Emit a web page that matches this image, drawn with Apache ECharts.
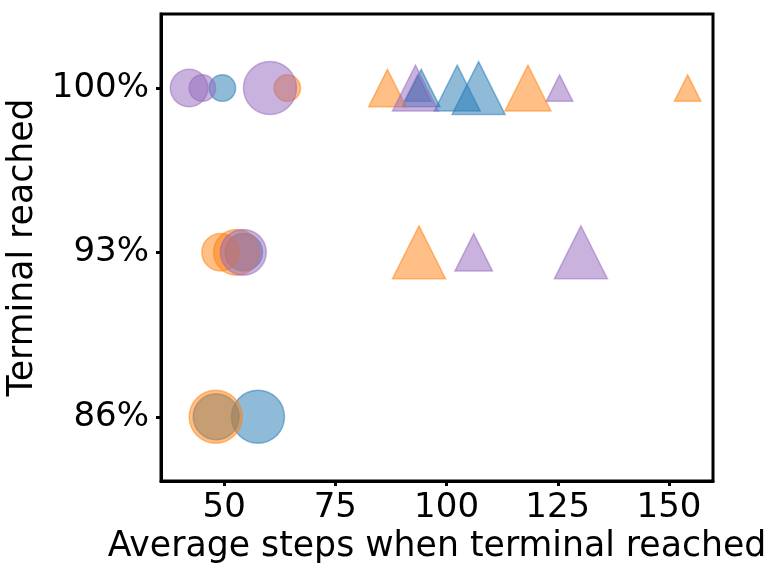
<!DOCTYPE html>
<html>
<head>
<meta charset="utf-8">
<script src="https://cdn.jsdelivr.net/npm/echarts@6/dist/echarts.min.js"></script>
<style>
  html, body { margin: 0; padding: 0; background: #fff; }
  #chart { width: 768px; height: 576px; }
</style>
</head>
<body>
<div id="chart"></div>
<script>
// each point: [average steps, % terminal reached, size level]
const blueCircles = [[49.6, 100, 1], [54.4, 92.86, 2], [48.2, 85.71, 3], [57.6, 85.71, 4]];
const orangeCircles = [[64.2, 100, 1], [49.2, 92.86, 2], [52.8, 92.86, 3], [48.1, 85.71, 4]];
const purpleCircles = [[42.1, 100, 2], [45.1, 100, 1], [60.3, 100, 4], [54.3, 92.86, 3]];
const blueTriangles = [[93.5, 100, 1], [94.3, 100, 2], [102.4, 100, 3], [107.2, 100, 4]];
const orangeTriangles = [[86.7, 100, 2], [118.3, 100, 3], [154.2, 100, 1], [93.8, 92.86, 4]];
const purpleTriangles = [[93.0, 100, 3], [125.4, 100, 1], [106.1, 92.86, 2], [130.2, 92.86, 4]];

const xTicks = [50, 75, 100, 125, 150];
const yTicks = [85.71, 92.86, 100];
const yTickLabels = ['86%', '93%', '100%'];

const FONT = 'DejaVu Sans';

function scatter(data, color, symbol) {
    return {
        type: 'scatter',
        data: data,
        symbol: symbol,
        symbolSize: d => 26.5 * Math.sqrt(d[2]),
        itemStyle: {
            color: color,
            opacity: 0.5,
            borderColor: color,
            borderWidth: 1.5
        },
        emphasis: { disabled: true }
    };
}

const chart = echarts.init(document.getElementById('chart'));

chart.setOption({
    animation: false,
    grid: {
        left: 161, right: 55, top: 14, bottom: 95,
        containLabel: false,
        outerBoundsMode: 'none',
        show: true, borderColor: '#000', borderWidth: 3
    },
    xAxis: {
        type: 'value',
        min: 35.8,
        max: 159.9,
        name: 'Average steps when terminal reached',
        nameLocation: 'middle',
        nameGap: 48,
        nameTextStyle: { fontFamily: FONT, fontSize: 34.7, color: '#000' },
        axisLine: { lineStyle: { color: '#000', width: 3 } },
        axisTick: { customValues: xTicks, length: 5, lineStyle: { color: '#000', width: 3 } },
        axisLabel: {
            customValues: xTicks,
            margin: 10,
            fontFamily: FONT, fontSize: 34, color: '#000'
        },
        splitLine: { show: false }
    },
    yAxis: {
        type: 'value',
        min: 82.92,
        max: 103.22,
        name: 'Terminal reached',
        nameLocation: 'middle',
        nameRotate: 90,
        nameGap: 115,
        nameTextStyle: { fontFamily: FONT, fontSize: 34.7, color: '#000' },
        axisLine: { show: true, lineStyle: { color: '#000', width: 3 } },
        axisTick: { show: true, customValues: yTicks, length: 5, lineStyle: { color: '#000', width: 3 } },
        axisLabel: {
            customValues: yTicks,
            margin: 12,
            fontFamily: FONT, fontSize: 34, color: '#000',
            formatter: v => yTickLabels[yTicks.indexOf(v)]
        },
        splitLine: { show: false }
    },
    series: [
        scatter(blueCircles, '#1f77b4', 'circle'),
        scatter(orangeCircles, '#ff7f0e', 'circle'),
        scatter(purpleCircles, '#9467bd', 'circle'),
        scatter(blueTriangles, '#1f77b4', 'triangle'),
        scatter(orangeTriangles, '#ff7f0e', 'triangle'),
        scatter(purpleTriangles, '#9467bd', 'triangle')
    ]
});
</script>
</body>
</html>
